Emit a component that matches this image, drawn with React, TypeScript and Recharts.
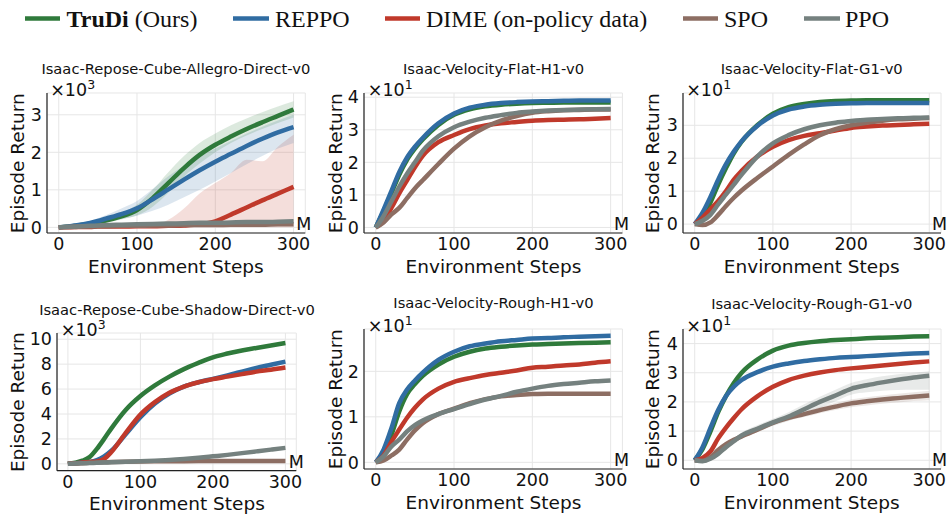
import React from "react"
import { ComposedChart, Line, Area, XAxis, YAxis, CartesianGrid } from "recharts"

// x positions (M environment steps) shared by every panel
const STEPS = [0, 10, 20, 30, 40, 50, 60, 80, 100, 120, 140, 160, 180, 200, 220, 240, 260, 280, 300]
const X_TICKS = [0, 100, 200, 300]

const SERIES = ["trudi", "reppo", "dime", "spo", "ppo"]
const SERIES_NAMES = ["TruDi", "REPPO", "DIME (on-policy data)", "SPO", "PPO"]

// Isaac-Repose-Cube-Allegro-Direct-v0  (x10^3)
const ALLEGRO_TRUDI = [0, 0.02, 0.04, 0.07, 0.1, 0.14, 0.18, 0.29, 0.46, 0.78, 1.18, 1.58, 1.93, 2.2, 2.42, 2.62, 2.8, 2.97, 3.14]
const ALLEGRO_REPPO = [0, 0.02, 0.05, 0.08, 0.12, 0.17, 0.23, 0.35, 0.51, 0.75, 1.01, 1.27, 1.52, 1.75, 1.96, 2.17, 2.36, 2.53, 2.67]
const ALLEGRO_DIME = [0, 0, 0.01, 0.01, 0.01, 0.02, 0.02, 0.02, 0.03, 0.03, 0.04, 0.05, 0.08, 0.16, 0.34, 0.53, 0.72, 0.9, 1.08]
const ALLEGRO_SPO = [0, 0.01, 0.01, 0.02, 0.02, 0.03, 0.03, 0.04, 0.04, 0.05, 0.05, 0.06, 0.06, 0.06, 0.07, 0.07, 0.07, 0.08, 0.08]
const ALLEGRO_PPO = [0, 0.01, 0.02, 0.03, 0.04, 0.05, 0.06, 0.07, 0.08, 0.09, 0.1, 0.11, 0.12, 0.12, 0.13, 0.14, 0.14, 0.15, 0.16]
const ALLEGRO_TRUDI_LO = [0, 0.01, 0.03, 0.05, 0.07, 0.1, 0.13, 0.21, 0.32, 0.55, 0.92, 1.35, 1.7, 2.0, 2.25, 2.45, 2.62, 2.78, 2.93]
const ALLEGRO_TRUDI_HI = [0, 0.03, 0.06, 0.1, 0.14, 0.19, 0.25, 0.39, 0.6, 1.0, 1.47, 1.9, 2.25, 2.5, 2.72, 2.9, 3.07, 3.22, 3.36]
const ALLEGRO_REPPO_LO = [0, 0.01, 0.03, 0.05, 0.08, 0.11, 0.15, 0.22, 0.31, 0.44, 0.6, 0.8, 1.0, 1.22, 1.45, 1.68, 1.9, 2.1, 2.25]
const ALLEGRO_REPPO_HI = [0, 0.03, 0.07, 0.11, 0.17, 0.24, 0.32, 0.5, 0.7, 1.02, 1.36, 1.65, 1.9, 2.1, 2.3, 2.5, 2.68, 2.85, 3.0]
const ALLEGRO_DIME_LO = [0, 0, 0, 0, 0, 0, 0, 0, 0, 0, 0, 0, 0, 0, 0, 0, 0, 0, 0]
const ALLEGRO_DIME_HI = [0, 0, 0.01, 0.01, 0.02, 0.02, 0.02, 0.03, 0.03, 0.04, 0.2, 0.5, 0.9, 1.18, 1.45, 1.8, 1.76, 2.15, 2.47]

// Isaac-Velocity-Flat-H1-v0  (x10^1)
const FLATH1_TRUDI = [0, 0.5, 1.05, 1.62, 2.08, 2.42, 2.7, 3.15, 3.46, 3.63, 3.72, 3.77, 3.8, 3.82, 3.83, 3.84, 3.84, 3.84, 3.84]
const FLATH1_REPPO = [0, 0.55, 1.12, 1.7, 2.15, 2.48, 2.75, 3.2, 3.5, 3.68, 3.77, 3.82, 3.85, 3.87, 3.88, 3.89, 3.9, 3.9, 3.9]
const FLATH1_DIME = [0, 0.2, 0.6, 1.05, 1.45, 1.85, 2.2, 2.62, 2.84, 3.02, 3.13, 3.2, 3.24, 3.28, 3.3, 3.31, 3.32, 3.34, 3.36]
const FLATH1_SPO = [0, 0.15, 0.4, 0.6, 0.9, 1.2, 1.45, 1.95, 2.42, 2.8, 3.08, 3.28, 3.42, 3.52, 3.57, 3.6, 3.61, 3.62, 3.62]
const FLATH1_PPO = [0, 0.35, 0.8, 1.25, 1.65, 2.0, 2.35, 2.8, 3.08, 3.25, 3.37, 3.45, 3.52, 3.56, 3.59, 3.61, 3.62, 3.63, 3.64]

// Isaac-Velocity-Flat-G1-v0  (x10^1)
const FLATG1_TRUDI = [0, 0.2, 0.65, 1.2, 1.7, 2.15, 2.5, 3.0, 3.35, 3.55, 3.65, 3.71, 3.74, 3.75, 3.76, 3.76, 3.76, 3.76, 3.76]
const FLATG1_REPPO = [0, 0.35, 0.82, 1.35, 1.82, 2.2, 2.52, 2.98, 3.3, 3.48, 3.57, 3.62, 3.65, 3.67, 3.68, 3.68, 3.68, 3.68, 3.68]
const FLATG1_DIME = [0, 0.2, 0.45, 0.7, 1.0, 1.35, 1.62, 2.05, 2.35, 2.55, 2.68, 2.76, 2.84, 2.92, 2.96, 2.99, 3.01, 3.03, 3.05]
const FLATG1_SPO = [0, -0.03, 0.05, 0.28, 0.55, 0.8, 1.02, 1.4, 1.75, 2.1, 2.42, 2.7, 2.88, 3.0, 3.08, 3.14, 3.18, 3.2, 3.22]
const FLATG1_PPO = [0, 0.1, 0.28, 0.6, 0.9, 1.2, 1.5, 2.05, 2.45, 2.7, 2.88, 3.0, 3.08, 3.13, 3.17, 3.19, 3.21, 3.23, 3.24]

// Isaac-Repose-Cube-Shadow-Direct-v0  (x10^3)
const SHADOW_TRUDI = [0, 0.1, 0.25, 0.55, 1.2, 2.0, 2.85, 4.35, 5.45, 6.3, 7.0, 7.6, 8.1, 8.55, 8.85, 9.1, 9.3, 9.5, 9.7]
const SHADOW_REPPO = [0, 0.05, 0.1, 0.15, 0.3, 0.6, 1.05, 2.4, 3.75, 4.85, 5.65, 6.2, 6.55, 6.82, 7.1, 7.4, 7.7, 7.95, 8.2]
const SHADOW_DIME = [0, 0.05, 0.1, 0.15, 0.2, 0.4, 0.95, 2.5, 3.95, 4.95, 5.7, 6.2, 6.55, 6.8, 7.0, 7.2, 7.4, 7.55, 7.73]
const SHADOW_SPO = [0, 0.02, 0.05, 0.08, 0.1, 0.12, 0.14, 0.17, 0.19, 0.2, 0.21, 0.21, 0.22, 0.22, 0.22, 0.22, 0.22, 0.22, 0.22]
const SHADOW_PPO = [0, 0.02, 0.04, 0.06, 0.08, 0.1, 0.12, 0.16, 0.2, 0.25, 0.3, 0.38, 0.48, 0.6, 0.72, 0.86, 1.0, 1.14, 1.28]

// Isaac-Velocity-Rough-H1-v0  (x10^1)
const ROUGHH1_TRUDI = [0, 0.18, 0.6, 1.12, 1.5, 1.72, 1.9, 2.15, 2.32, 2.43, 2.5, 2.54, 2.57, 2.59, 2.6, 2.61, 2.62, 2.63, 2.64]
const ROUGHH1_REPPO = [0, 0.28, 0.75, 1.3, 1.6, 1.8, 1.97, 2.25, 2.43, 2.55, 2.61, 2.66, 2.69, 2.72, 2.73, 2.75, 2.76, 2.77, 2.78]
const ROUGHH1_DIME = [0, 0.15, 0.45, 0.72, 0.98, 1.2, 1.38, 1.62, 1.77, 1.85, 1.92, 1.97, 2.02, 2.08, 2.1, 2.13, 2.15, 2.19, 2.22]
const ROUGHH1_SPO = [0, 0.04, 0.15, 0.28, 0.5, 0.7, 0.86, 1.06, 1.18, 1.3, 1.39, 1.45, 1.48, 1.5, 1.51, 1.51, 1.51, 1.51, 1.51]
const ROUGHH1_PPO = [0, 0.13, 0.35, 0.5, 0.68, 0.82, 0.92, 1.06, 1.17, 1.28, 1.38, 1.46, 1.55, 1.62, 1.68, 1.72, 1.75, 1.78, 1.8]

// Isaac-Velocity-Rough-G1-v0  (x10^1)
const ROUGHG1_TRUDI = [0, 0.38, 0.98, 1.65, 2.2, 2.65, 3.0, 3.45, 3.76, 3.93, 4.02, 4.08, 4.12, 4.15, 4.18, 4.2, 4.22, 4.24, 4.25]
const ROUGHG1_REPPO = [0, 0.45, 1.1, 1.72, 2.2, 2.52, 2.75, 3.02, 3.21, 3.32, 3.4, 3.46, 3.51, 3.54, 3.57, 3.6, 3.63, 3.66, 3.68]
const ROUGHG1_DIME = [0, 0.08, 0.3, 0.75, 1.12, 1.45, 1.75, 2.19, 2.52, 2.75, 2.9, 3.01, 3.09, 3.15, 3.2, 3.25, 3.3, 3.35, 3.39]
const ROUGHG1_SPO = [0, -0.02, 0.1, 0.35, 0.55, 0.7, 0.82, 1.05, 1.28, 1.45, 1.58, 1.72, 1.84, 1.95, 2.02, 2.08, 2.13, 2.18, 2.22]
const ROUGHG1_PPO = [0, -0.03, 0.05, 0.22, 0.45, 0.65, 0.85, 1.08, 1.3, 1.5, 1.75, 2.0, 2.22, 2.45, 2.57, 2.67, 2.76, 2.84, 2.9]
const ROUGHG1_SPO_LO = [0, -0.04, 0.05, 0.3, 0.48, 0.62, 0.74, 0.97, 1.2, 1.36, 1.48, 1.61, 1.72, 1.82, 1.88, 1.94, 1.98, 2.03, 2.06]
const ROUGHG1_SPO_HI = [0, 0, 0.15, 0.4, 0.62, 0.78, 0.9, 1.13, 1.36, 1.54, 1.68, 1.83, 1.96, 2.08, 2.16, 2.22, 2.28, 2.33, 2.38]
const ROUGHG1_PPO_LO = [0, -0.06, 0, 0.15, 0.37, 0.57, 0.75, 0.96, 1.18, 1.35, 1.58, 1.8, 2.02, 2.25, 2.33, 2.38, 2.41, 2.42, 2.42]
const ROUGHG1_PPO_HI = [0, 0, 0.1, 0.3, 0.53, 0.73, 0.95, 1.2, 1.42, 1.65, 1.92, 2.18, 2.42, 2.65, 2.78, 2.88, 2.95, 3.0, 3.05]

const COLORS: Record<string, string> = {
  trudi: "#2f7a3b",
  reppo: "#306ca2",
  dime: "#c0392b",
  spo: "#8d6e63",
  ppo: "#75817f",
}

const FONT = "'DejaVu Sans', sans-serif"
const SERIF = "'Liberation Serif', 'Times New Roman', serif"
const INK = "#111"

const YW = 45
const XH = 40
const MT = 10
const MR = 24

const PANELS = [
  {
    title: "Isaac-Repose-Cube-Allegro-Direct-v0", exp: "3",
    L: 46.7, T: 93.3, R: 305, B: 233.3, titleY: 73.5, yLabelX: 24, xLabelY: 272.5,
    yDomain: [-0.15, 3.58], yTicks: [0, 1, 2, 3],
    lines: { trudi: ALLEGRO_TRUDI, reppo: ALLEGRO_REPPO, dime: ALLEGRO_DIME, spo: ALLEGRO_SPO, ppo: ALLEGRO_PPO },
    bands: {
      dime: [ALLEGRO_DIME_LO, ALLEGRO_DIME_HI],
      reppo: [ALLEGRO_REPPO_LO, ALLEGRO_REPPO_HI],
      trudi: [ALLEGRO_TRUDI_LO, ALLEGRO_TRUDI_HI],
    },
  },
  {
    title: "Isaac-Velocity-Flat-H1-v0", exp: "1",
    L: 364.3, T: 93.3, R: 622.7, B: 233.3, titleY: 73.5, yLabelX: 342, xLabelY: 272.5,
    yDomain: [-0.17, 4.13], yTicks: [0, 1, 2, 3, 4],
    lines: { trudi: FLATH1_TRUDI, reppo: FLATH1_REPPO, dime: FLATH1_DIME, spo: FLATH1_SPO, ppo: FLATH1_PPO },
    bands: {},
  },
  {
    title: "Isaac-Velocity-Flat-G1-v0", exp: "1",
    L: 682.7, T: 93.3, R: 940.7, B: 233.3, titleY: 73.5, yLabelX: 658.7, xLabelY: 272.5,
    yDomain: [-0.27, 3.98], yTicks: [0, 1, 2, 3],
    lines: { trudi: FLATG1_TRUDI, reppo: FLATG1_REPPO, dime: FLATG1_DIME, spo: FLATG1_SPO, ppo: FLATG1_PPO },
    bands: {},
  },
  {
    title: "Isaac-Repose-Cube-Shadow-Direct-v0", exp: "3",
    L: 57.3, T: 333.3, R: 296.6, B: 471, titleY: 314.5, yLabelX: 23.7, xLabelY: 510,
    yDomain: [-0.55, 10.5], yTicks: [0, 2, 4, 6, 8, 10],
    lines: { trudi: SHADOW_TRUDI, reppo: SHADOW_REPPO, dime: SHADOW_DIME, spo: SHADOW_SPO, ppo: SHADOW_PPO },
    bands: {},
  },
  {
    title: "Isaac-Velocity-Rough-H1-v0", exp: "1",
    L: 364.3, T: 329.3, R: 622.7, B: 469.3, titleY: 308, yLabelX: 342, xLabelY: 509,
    yDomain: [-0.146, 2.93], yTicks: [0, 1, 2],
    lines: { trudi: ROUGHH1_TRUDI, reppo: ROUGHH1_REPPO, dime: ROUGHH1_DIME, spo: ROUGHH1_SPO, ppo: ROUGHH1_PPO },
    bands: {},
  },
  {
    title: "Isaac-Velocity-Rough-G1-v0", exp: "1",
    L: 682.7, T: 329.3, R: 940.7, B: 469.3, titleY: 308.5, yLabelX: 658.7, xLabelY: 509,
    yDomain: [-0.3, 4.5], yTicks: [0, 1, 2, 3, 4],
    lines: { trudi: ROUGHG1_TRUDI, reppo: ROUGHG1_REPPO, dime: ROUGHG1_DIME, spo: ROUGHG1_SPO, ppo: ROUGHG1_PPO },
    bands: {
      spo: [ROUGHG1_SPO_LO, ROUGHG1_SPO_HI],
      ppo: [ROUGHG1_PPO_LO, ROUGHG1_PPO_HI],
    },
  },
]

const LEGEND_POS = [
  { x1: 25, x2: 60, tx: 66.5 },
  { x1: 233, x2: 269, tx: 275 },
  { x1: 385, x2: 420, tx: 426 },
  { x1: 683, x2: 718, tx: 724 },
  { x1: 804, x2: 840, tx: 845 },
]

const tickStyle = { fontFamily: FONT, fontSize: 17.5, fill: INK }
const spine = { stroke: "#222", strokeWidth: 1.2 }

function Panel({ p }: { p: any }) {
  const w = p.R - p.L
  const h = p.B - p.T
  const bandKeys = Object.keys(p.bands)
  const data = STEPS.map((s, i) => {
    const row: any = { step: s }
    SERIES.forEach((k) => (row[k] = p.lines[k][i]))
    bandKeys.forEach((k) => (row[k + "Band"] = [p.bands[k][0][i], p.bands[k][1][i]]))
    return row
  })

  return (
    <div style={{ position: "absolute", left: p.L - YW, top: p.T - MT }}>
      <ComposedChart
        width={w + YW + MR}
        height={h + MT + XH}
        data={data}
        margin={{ top: MT, right: MR, bottom: 0, left: 0 }}
      >
        <CartesianGrid stroke="#e6e6e6" strokeWidth={1} />
        <XAxis
          dataKey="step"
          type="number"
          domain={[-15, 315]}
          ticks={X_TICKS}
          allowDataOverflow
          interval={0}
          height={XH}
          tickLine={false}
          tickSize={0}
          tickMargin={5}
          axisLine={spine}
          tick={tickStyle}
        />
        <YAxis
          type="number"
          domain={p.yDomain}
          ticks={p.yTicks}
          allowDataOverflow
          interval={0}
          width={YW}
          tickLine={false}
          tickSize={0}
          tickMargin={5}
          axisLine={spine}
          tick={tickStyle}
        />
        {bandKeys.map((k) => (
          <Area
            key={k + "Band"}
            dataKey={k + "Band"}
            type="monotone"
            stroke="none"
            fill={COLORS[k]}
            fillOpacity={0.17}
            dot={false}
            activeDot={false}
            isAnimationActive={false}
          />
        ))}
        {SERIES.map((k) => (
          <Line
            key={k}
            dataKey={k}
            type="monotone"
            stroke={COLORS[k]}
            strokeWidth={4.5}
            strokeLinejoin="round"
            dot={false}
            activeDot={false}
            isAnimationActive={false}
          />
        ))}
      </ComposedChart>
    </div>
  )
}

function PanelText({ p }: { p: any }) {
  const cx = (p.L + p.R) / 2
  const cy = (p.T + p.B) / 2
  const x300 = p.L + (315 / 330) * (p.R - p.L)
  return (
    <g fontFamily={FONT} fill={INK}>
      <text x={cx} y={p.titleY} fontSize={14.7} textAnchor="middle">
        {p.title}
      </text>
      <text x={p.L + 3.5} y={p.T + 2.8} fontSize={17.5}>
        ×10
        <tspan dy={-7.5} fontSize={12.5}>
          {p.exp}
        </tspan>
      </text>
      <text x={x300 + 3} y={p.B - 3.5} fontSize={17.5}>
        M
      </text>
      <text x={cx} y={p.xLabelY} fontSize={18.5} textAnchor="middle">
        Environment Steps
      </text>
      <text transform={`translate(${p.yLabelX}, ${cy}) rotate(-90)`} fontSize={18.5} textAnchor="middle">
        Episode Return
      </text>
    </g>
  )
}

export default function App() {
  return (
    <div style={{ position: "absolute", left: 0, top: 0, width: 948, height: 515, background: "#fff", overflow: "hidden" }}>
      {PANELS.map((p) => (
        <Panel key={p.title} p={p} />
      ))}
      <svg width={948} height={515} style={{ position: "absolute", left: 0, top: 0, pointerEvents: "none" }}>
        {PANELS.map((p) => (
          <PanelText key={p.title} p={p} />
        ))}
        {SERIES.map((k, i) => {
          const pos = LEGEND_POS[i]
          return (
            <g key={k}>
              <line x1={pos.x1} x2={pos.x2} y1={18.5} y2={18.5} stroke={COLORS[k]} strokeWidth={4.5} />
              <text x={pos.tx} y={27} fontFamily={SERIF} fontSize={24} fill={INK}>
                {k === "trudi" ? (
                  <>
                    <tspan fontWeight="bold">{SERIES_NAMES[i]}</tspan> (Ours)
                  </>
                ) : (
                  SERIES_NAMES[i]
                )}
              </text>
            </g>
          )
        })}
      </svg>
    </div>
  )
}
